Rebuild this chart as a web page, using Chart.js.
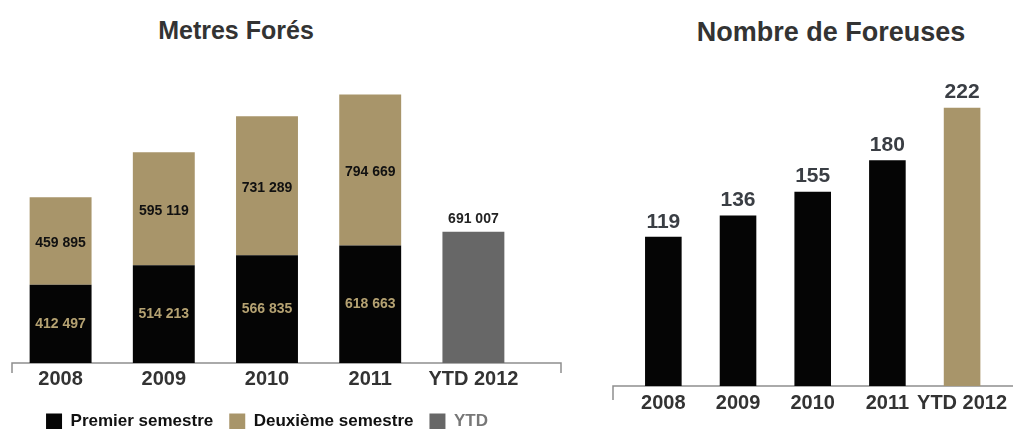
<!DOCTYPE html>
<html><head><meta charset="utf-8">
<script src="https://cdn.jsdelivr.net/npm/chart.js@4/dist/chart.umd.min.js"></script>
<style>
html,body{margin:0;padding:0;background:#fff;width:1013px;height:429px;overflow:hidden;}
#left{position:absolute;left:0;top:0;width:570px;height:429px;}
#right{position:absolute;left:580px;top:0;width:433px;height:429px;}
.title{position:absolute;font-family:'Liberation Sans',Arial,sans-serif;font-weight:bold;color:#333;white-space:nowrap;transform:translateX(-50%);line-height:30px;}
</style></head>
<body>
<div class="title" style="left:236px;top:15px;font-size:25px">Metres Forés</div>
<div class="title" style="left:831px;top:17px;font-size:27px">Nombre de Foreuses</div>
<div id="left"><canvas id="c1"></canvas></div>
<div id="right"><canvas id="c2"></canvas></div>
<script>
const categories = ['2008', '2009', '2010', '2011', 'YTD 2012'];
const premierSemestre = [412497, 514213, 566835, 618663, null];
const deuxiemeSemestre = [459895, 595119, 731289, 794669, null];
const ytdMetres = [null, null, null, null, 691007];
const foreuses = [119, 136, 155, 180, 222];
const legendLabels = ['Premier semestre', 'Deuxième semestre', 'YTD'];

const BLACK = '#050505', TAN = '#a8956a', GREY = '#676767';
const FONT = "'Liberation Sans', Arial, sans-serif";

function fmt(v){ return String(v).replace(/\B(?=(\d{3})+(?!\d))/g, ' '); }

const valueLabels = {
  id: 'valueLabels',
  afterDatasetsDraw(chart, args, opts){
    const ctx = chart.ctx;
    chart.data.datasets.forEach((ds, i) => {
      const cfg = opts.sets[i];
      if (!cfg) return;
      const meta = chart.getDatasetMeta(i);
      meta.data.forEach((bar, j) => {
        const v = ds.data[j];
        if (v == null) return;
        ctx.save();
        ctx.font = cfg.font;
        ctx.fillStyle = cfg.color;
        ctx.textAlign = 'center';
        ctx.textBaseline = 'middle';
        const y = cfg.pos === 'center' ? (bar.y + bar.base) / 2 + (cfg.dy || 0) : bar.y - cfg.offset;
        ctx.fillText(fmt(v), bar.x, y);
        ctx.restore();
      });
    });
  }
};

const baseline = {
  id: 'baseline',
  beforeDatasetsDraw(chart, args, opts){
    const ctx = chart.ctx;
    const y = chart.scales.y.getPixelForValue(0);
    const x0 = chart.chartArea.left + opts.extendLeft;
    const x1 = opts.toEdge ? chart.width : chart.chartArea.right + opts.extendRight;
    ctx.save();
    ctx.strokeStyle = opts.color;
    ctx.lineWidth = opts.width;
    ctx.beginPath();
    ctx.moveTo(x0, y + opts.tick);
    ctx.lineTo(x0, y);
    ctx.lineTo(x1, y);
    if (opts.rightTick) ctx.lineTo(x1, y + opts.tick);
    ctx.stroke();
    ctx.restore();
  }
};

new Chart(document.getElementById('c1'), {
  type: 'bar',
  data: {
    labels: categories,
    datasets: [
      { label: legendLabels[0], data: premierSemestre, backgroundColor: BLACK },
      { label: legendLabels[1], data: deuxiemeSemestre, backgroundColor: TAN },
      { label: legendLabels[2], data: ytdMetres, backgroundColor: GREY }
    ]
  },
  options: {
    responsive: true, maintainAspectRatio: false, animation: false,
    layout: { padding: { left: 9, right: 45, top: 59, bottom: -11 } },
    datasets: { bar: { barPercentage: 0.6, categoryPercentage: 1, borderWidth: 0 } },
    scales: {
      x: { stacked: true, grid: { display: false, drawTicks: false }, border: { display: false },
           ticks: { color: '#333', font: { family: FONT, size: 20, weight: 'bold' }, padding: 4, maxRotation: 0, minRotation: 0, autoSkip: false },
           afterFit(s){ s.height = 34; } },
      y: { stacked: true, display: false, min: 0, max: 1600000 }
    },
    plugins: {
      tooltip: { enabled: false },
      legend: { position: 'bottom',
        labels: { boxWidth: 16, boxHeight: 16, padding: 16, color: '#111',
          font: { family: FONT, size: 17, weight: 'bold' },
          generateLabels(chart){
            const items = Chart.defaults.plugins.legend.labels.generateLabels(chart);
            items.forEach((it, i) => { it.fontColor = i === 2 ? '#777' : '#111'; it.lineWidth = 0; });
            return items;
          } } },
      valueLabels: { sets: [
        { pos: 'center', font: "bold 14px " + FONT, color: '#b5a272', dy: 0 },
        { pos: 'center', font: "bold 14px " + FONT, color: '#111', dy: 2 },
        { pos: 'top', font: "bold 14px " + FONT, color: '#222', offset: 13 }
      ] },
      baseline: { color: '#8e8e8e', width: 1.5, tick: 10, extendLeft: 3, extendRight: 36, rightTick: true }
    }
  },
  plugins: [valueLabels, baseline]
});

new Chart(document.getElementById('c2'), {
  type: 'bar',
  data: {
    labels: categories,
    datasets: [
      { label: 'Nombre de Foreuses', data: foreuses, backgroundColor: [BLACK, BLACK, BLACK, BLACK, TAN] }
    ]
  },
  options: {
    responsive: true, maintainAspectRatio: false, animation: false,
    layout: { padding: { left: 46, right: 9, top: 60, bottom: 0 } },
    datasets: { bar: { barPercentage: 0.49, categoryPercentage: 1, borderWidth: 0 } },
    scales: {
      x: { grid: { display: false, drawTicks: false }, border: { display: false },
           ticks: { color: '#333', font: { family: FONT, size: 20, weight: 'bold' }, padding: 5, maxRotation: 0, minRotation: 0, autoSkip: false },
           afterFit(s){ s.height = 43; } },
      y: { display: false, min: 0, max: 260 }
    },
    plugins: {
      tooltip: { enabled: false },
      legend: { display: false },
      valueLabels: { sets: [
        { pos: 'top', font: "bold 21px " + FONT, color: '#3a3e44', offset: 15 }
      ] },
      baseline: { color: '#8e8e8e', width: 1.5, tick: 14, extendLeft: -13, toEdge: true, rightTick: false }
    }
  },
  plugins: [valueLabels, baseline]
});
</script>
</body></html>
